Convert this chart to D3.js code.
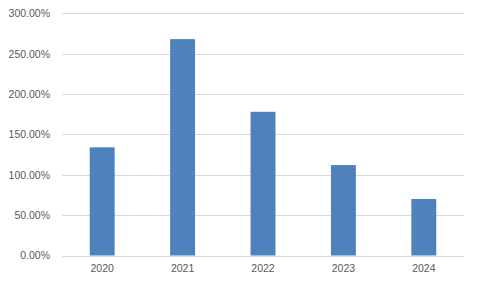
<!DOCTYPE html>
<html><head><meta charset="utf-8">
<script src="https://cdn.jsdelivr.net/npm/d3@7"></script>
<style>body{margin:0;background:#fff}svg{display:block}</style>
</head><body>
<script>
const categories = ["2020","2021","2022","2023","2024"];
const values = [1.34, 2.68, 1.78, 1.12, 0.70];
const yTicks = [0, 0.5, 1, 1.5, 2, 2.5, 3];

const W = 479, H = 287;
const m = {left: 62, right: 15, top: 13.3, bottom: 31.5};
const svg = d3.select("body").append("svg").attr("width", W).attr("height", H);
const x = d3.scaleBand().domain(categories).range([m.left, W - m.right]).paddingInner(0.69).paddingOuter(0.345);
const y = d3.scaleLinear().domain([0, 3]).range([H - m.bottom, m.top]);

svg.append("g").selectAll("line").data(yTicks).join("line")
  .attr("x1", m.left).attr("x2", W - m.right)
  .attr("y1", d => Math.round(y(d)) + 0.5).attr("y2", d => Math.round(y(d)) + 0.5)
  .attr("stroke", "#d9d9d9").attr("stroke-width", 1);

svg.append("g").selectAll("rect").data(values).join("rect")
  .attr("x", (d, i) => x(categories[i])).attr("width", x.bandwidth())
  .attr("y", d => y(d)).attr("height", d => y(0) - y(d))
  .attr("fill", "#4f81bd");

const yAxis = d3.axisLeft(y).tickValues(yTicks).tickFormat(d => d3.format(".2%")(d)).tickSize(0).tickPadding(12);
const gy = svg.append("g").attr("transform", `translate(${m.left},0)`).call(yAxis);
gy.select(".domain").remove();
gy.selectAll("text").attr("fill", "#595959").style("font-family", "Liberation Sans, Arial, sans-serif").style("font-size", "10.5px");

const xAxis = d3.axisBottom(x).tickSize(0).tickPadding(9);
const gx = svg.append("g").attr("transform", `translate(0,${y(0)})`).call(xAxis);
gx.select(".domain").remove();
gx.selectAll("text").attr("fill", "#595959").style("font-family", "Liberation Sans, Arial, sans-serif").style("font-size", "10.5px");
</script>
</body></html>
